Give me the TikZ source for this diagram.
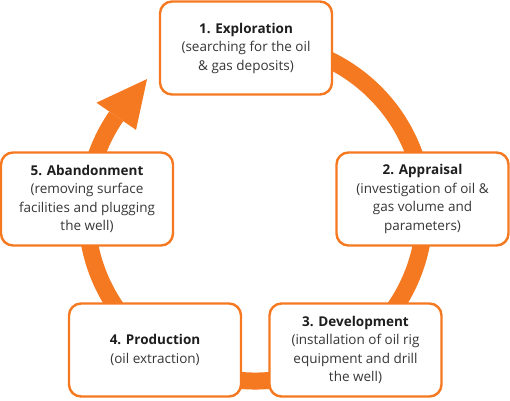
\documentclass[tikz,border=0pt]{standalone}
\usepackage{fontspec}
\setmainfont{Open Sans}
\usetikzlibrary{calc}
\definecolor{ringorange}{RGB}{245,121,32}
\definecolor{txtgray}{RGB}{55,55,55}
\definecolor{headgray}{RGB}{30,30,30}
\newcommand{\stagetitle}[1]{\textcolor{headgray}{\textbf{#1}}}
\begin{document}
\begin{tikzpicture}[x=1pt,y=-1pt,
  stage/.style={draw=ringorange, line width=2.4pt, fill=white, rounded corners=12pt,
    minimum width=172pt, minimum height=93pt, align=center, inner sep=0pt,
    font=\fontsize{13.5}{18.5}\selectfont, text=txtgray},
  ring/.style={draw=ringorange, line width=17pt},
  head/.style={fill=ringorange, draw=none}]
\useasboundingbox (0,0) rectangle (510,400);
\coordinate (c) at (255.5,212);
% ring
\draw[ring] (c) ++(-100:169) arc[start angle=-100, end angle=214.5, radius=169];
\fill[head] ($(c)+(-145.5:193)$) -- ($(c)+(-129.2:171.6)$) -- ($(c)+(-145.5:145)$) -- cycle;
% boxes
\node[stage] (s1) at (246,48) {\stagetitle{1. Exploration}\\(searching for the oil\\\& gas deposits)};
\node[stage] (s2) at (422.5,199) {\stagetitle{2. Appraisal}\\(investigation of oil \&\\gas volume and\\parameters)};
\node[stage] (s3) at (355.5,350) {\stagetitle{3. Development}\\(installation of oil rig\\equipment and drill\\the well)};
\node[stage] (s4) at (155,350) {\stagetitle{4. Production}\\(oil extraction)};
\node[stage] (s5) at (87,199) {\stagetitle{5. Abandonment}\\(removing surface\\facilities and plugging\\the well)};
\end{tikzpicture}
\end{document}
